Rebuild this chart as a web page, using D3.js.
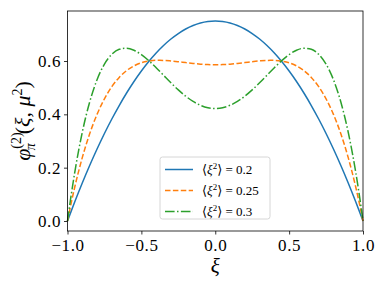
<!DOCTYPE html>
<html>
<head>
<meta charset="utf-8">
<script src="https://cdn.jsdelivr.net/npm/d3@7"></script>
<style>
body { margin: 0; background: #fff; }
svg text { font-family: "Liberation Serif", "DejaVu Serif", serif; }
</style>
</head>
<body>
<div id="chart"></div>
<script>
// xi grid and the three DA curves
var xi = [-1, -0.975, -0.95, -0.9, -0.85, -0.8, -0.75, -0.7, -0.65, -0.6, -0.55, -0.5, -0.45, -0.4, -0.35, -0.3, -0.25, -0.2, -0.15, -0.1, -0.05,
	0, 0.05, 0.1, 0.15, 0.2, 0.25, 0.3, 0.35, 0.4, 0.45, 0.5, 0.55, 0.6, 0.65, 0.7, 0.75, 0.8, 0.85, 0.9, 0.95, 0.975, 1];

var phi02 = [0, 0.0370, 0.0731, 0.1425, 0.2081, 0.27, 0.3281, 0.3825, 0.4331, 0.48, 0.5231, 0.5625, 0.5981, 0.63, 0.6581, 0.6825, 0.7031, 0.72, 0.7331, 0.7425, 0.7481,
	0.75, 0.7481, 0.7425, 0.7331, 0.72, 0.7031, 0.6825, 0.6581, 0.63, 0.5981, 0.5625, 0.5231, 0.48, 0.4331, 0.3825, 0.3281, 0.27, 0.2081, 0.1425, 0.0731, 0.0370, 0];

var phi025 = [0, 0.0674, 0.1293, 0.2376, 0.3270, 0.3999, 0.4582, 0.5038, 0.5385, 0.564, 0.5817, 0.5933, 0.5997, 0.6024, 0.6023, 0.6004, 0.5974, 0.594, 0.5908, 0.5882, 0.5865,
	0.5859, 0.5865, 0.5882, 0.5908, 0.594, 0.5974, 0.6004, 0.6023, 0.6024, 0.5997, 0.5933, 0.5817, 0.564, 0.5385, 0.5038, 0.4582, 0.3999, 0.3270, 0.2376, 0.1293, 0.0674, 0];

var phi03 = [0, 0.0978, 0.1854, 0.3327, 0.4460, 0.5299, 0.5883, 0.6252, 0.6439, 0.648, 0.6404, 0.6240, 0.6014, 0.5749, 0.5466, 0.5183, 0.4916, 0.468, 0.4484, 0.4339, 0.4249,
	0.4219, 0.4249, 0.4339, 0.4484, 0.468, 0.4916, 0.5183, 0.5466, 0.5749, 0.6014, 0.6240, 0.6404, 0.648, 0.6439, 0.6252, 0.5883, 0.5299, 0.4460, 0.3327, 0.1854, 0.0978, 0];

var labels = ["0.2", "0.25", "0.3"];
var colors = ["#1f77b4", "#ff7f0e", "#2ca02c"];
var dashes = ["none", "5.5,2.4", "9.6,2.4,1.5,2.4"];
var xTicks = [-1, -0.5, 0, 0.5, 1];
var yTicks = [0, 0.2, 0.4, 0.6];

var margin = { top: 11, right: 21, bottom: 57, left: 67.5 },
	width = 384 - margin.left - margin.right,
	height = 288 - margin.top - margin.bottom;

var x = d3.scaleLinear().domain( [ -1, 1 ] ).range( [ 0, width ] );
var y = d3.scaleLinear().domain( [ -0.0375, 0.7875 ] ).range( [ height, 0 ] );

var svg = d3.select( "#chart" ).append( "svg" )
	.attr( "width", 384 ).attr( "height", 288 );

var g = svg.append( "g" )
	.attr( "transform", "translate(" + margin.left + "," + margin.top + ")" );

var fmt = function( d ) { return d3.format( ".1f" )( d ).replace( "-", "\u2212" ); };

// axes
var xAxis = g.append( "g" )
	.attr( "transform", "translate(0," + height + ")" )
	.call( d3.axisBottom( x ).tickValues( xTicks ).tickFormat( fmt ).tickSize( 3.5 ).tickPadding( 3 ) );
var yAxis = g.append( "g" )
	.call( d3.axisLeft( y ).tickValues( yTicks ).tickFormat( fmt ).tickSize( 3.5 ).tickPadding( 3 ) );

[ xAxis, yAxis ].forEach( function( a ) {
	a.select( ".domain" ).remove();
	a.selectAll( "line" ).attr( "stroke", "#000" ).attr( "stroke-width", 0.8 );
	a.selectAll( "text" ).style( "font-family", "'Liberation Serif', serif" ).style( "font-size", "17px" )
		.style( "letter-spacing", "0.6px" ).attr( "fill", "#000" );
} );
xAxis.selectAll( "text" ).attr( "dy", "0.8em" );

// curves
var series = [ phi02, phi025, phi03 ];
var line = d3.line()
	.x( function( d, i ) { return x( xi[ i ] ); } )
	.y( function( d ) { return y( d ); } )
	.curve( d3.curveMonotoneX );

series.forEach( function( s, k ) {
	g.append( "path" )
		.datum( s )
		.attr( "d", line )
		.attr( "fill", "none" )
		.attr( "stroke", colors[ k ] )
		.attr( "stroke-width", 1.5 )
		.attr( "stroke-dasharray", dashes[ k ] );
} );

// frame
g.append( "rect" )
	.attr( "width", width ).attr( "height", height )
	.attr( "fill", "none" ).attr( "stroke", "#000" ).attr( "stroke-width", 0.8 );

// legend
var lg = g.append( "g" ).attr( "transform", "translate(" + ( 160 - margin.left ) + "," + ( 157 - margin.top ) + ")" );
lg.append( "rect" )
	.attr( "width", 110 ).attr( "height", 62 ).attr( "rx", 2.5 )
	.attr( "fill", "#fff" ).attr( "fill-opacity", 0.8 )
	.attr( "stroke", "#ccc" ).attr( "stroke-width", 0.8 );

labels.forEach( function( l, k ) {
	var yy = 12.5 + k * 21;
	lg.append( "line" )
		.attr( "x1", 5 ).attr( "x2", 33 ).attr( "y1", yy ).attr( "y2", yy )
		.attr( "stroke", colors[ k ] ).attr( "stroke-width", 1.5 )
		.attr( "stroke-dasharray", dashes[ k ] );
	var t = lg.append( "text" )
		.attr( "x", 42 ).attr( "y", yy + 4 )
		.style( "font-size", "13px" );
	t.append( "tspan" ).text( "\u27e8" );
	t.append( "tspan" ).style( "font-style", "italic" ).text( "\u03be" );
	t.append( "tspan" ).attr( "dy", -5 ).style( "font-size", "9px" ).text( "2" );
	t.append( "tspan" ).attr( "dy", 5 ).text( "\u27e9 = " + l );
} );

// axis labels
svg.append( "text" )
	.attr( "x", margin.left + width / 2 ).attr( "y", 273 )
	.attr( "text-anchor", "middle" )
	.style( "font-size", "21px" ).style( "font-style", "italic" )
	.text( "\u03be" );

var yl = svg.append( "text" )
	.attr( "transform", "translate(30," + ( margin.top + height / 2 ) + ") rotate(-90)" )
	.attr( "text-anchor", "middle" )
	.style( "font-size", "22px" );
yl.append( "tspan" ).style( "font-style", "italic" ).text( "\u03c6" );
yl.append( "tspan" ).attr( "dy", -9 ).style( "font-size", "14px" ).text( "(2)" );
yl.append( "tspan" ).attr( "dx", -18 ).attr( "dy", 14 ).style( "font-size", "14px" ).style( "font-style", "italic" ).text( "\u03c0" );
yl.append( "tspan" ).attr( "dx", 9 ).attr( "dy", -5 ).text( "(" );
yl.append( "tspan" ).style( "font-style", "italic" ).text( "\u03be" );
yl.append( "tspan" ).text( ", " );
yl.append( "tspan" ).style( "font-style", "italic" ).text( "\u03bc" );
yl.append( "tspan" ).attr( "dy", -8 ).style( "font-size", "14px" ).text( "2" );
yl.append( "tspan" ).attr( "dy", 8 ).text( ")" );
</script>
</body>
</html>
